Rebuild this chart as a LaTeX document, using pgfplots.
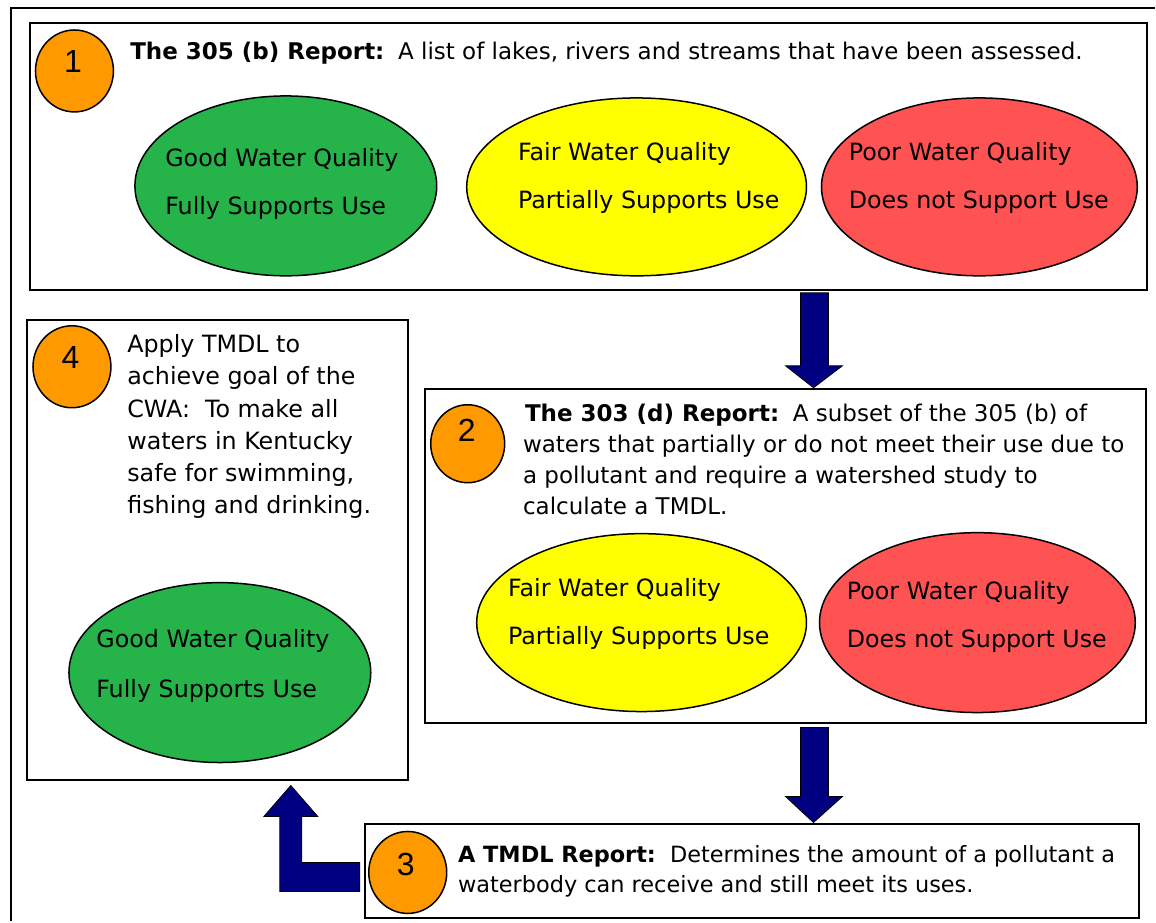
\documentclass[border=0pt]{standalone}
\usepackage{pgfplots}
\pgfplotsset{compat=1.18}
\usepackage{fontspec}
\setmainfont{DejaVu Sans}
\newfontfamily\numfont{Liberation Sans}
\definecolor{orng}{HTML}{FF9900}
\definecolor{grn}{HTML}{26B44A}
\definecolor{ylw}{HTML}{FFFF00}
\definecolor{rd}{HTML}{FF5353}
\definecolor{nvy}{HTML}{000080}
\tikzset{
  txt/.style={font=\fontsize{11.5}{14}\selectfont, inner sep=0pt, anchor=base west},
  etxt/.style={font=\fontsize{11.9}{14}\selectfont, inner sep=0pt, anchor=base west},
  stxt/.style={font=\fontsize{11.2}{14}\selectfont, inner sep=0pt, anchor=base west},
  num/.style={font=\numfont\fontsize{16}{18}\selectfont, inner sep=0pt, anchor=base},
}
\begin{document}
\begin{tikzpicture}
\begin{axis}[scale only axis, width=578pt, height=461pt,
  xmin=0, xmax=1156, ymin=0, ymax=922, y dir=reverse,
  hide axis, clip=false]
% background
\addplot[draw=none, fill=white, mark=none] coordinates {(0,0) (1156,0) (1156,922) (0,922)} --cycle;
% outer frame (top and left)
\addplot[draw=black, line width=0.75pt, mark=none] coordinates {(11,922) (11,8) (1156,8)};
% boxes
\addplot[draw=black, line width=1pt, fill=white, mark=none] coordinates {(30,23) (1148,23) (1148,290) (30,290)} --cycle;
\addplot[draw=black, line width=1pt, fill=white, mark=none] coordinates {(425,389) (1147,389) (1147,723) (425,723)} --cycle;
\addplot[draw=black, line width=1pt, fill=white, mark=none] coordinates {(365,825) (1140,825) (1140,919) (365,919)} --cycle;
\addplot[draw=black, line width=1pt, fill=white, mark=none] coordinates {(27,320) (408,320) (408,780) (27,780)} --cycle;
% arrows
\addplot[draw=black, line width=0.4pt, fill=nvy, mark=none] coordinates {(801,293) (829,293) (829,366) (843,366) (814,388) (786,366) (801,366)} --cycle;
\addplot[draw=black, line width=0.4pt, fill=nvy, mark=none] coordinates {(801,728) (829,728) (829,797) (843,797) (814,823) (786,797) (801,797)} --cycle;
\addplot[draw=black, line width=0.4pt, fill=nvy, mark=none] coordinates {(360,863) (302,863) (302,817) (318,817) (291,786) (264,817) (280,817) (280,892) (360,892)} --cycle;
% ellipses
\draw[fill=grn, line width=0.75pt] (axis cs:286,186) ellipse [x radius=151, y radius=90];
\draw[fill=ylw, line width=0.75pt] (axis cs:637,187) ellipse [x radius=170, y radius=89];
\draw[fill=rd, line width=0.75pt] (axis cs:980,187) ellipse [x radius=158, y radius=89];
\draw[fill=ylw, line width=0.75pt] (axis cs:642,623) ellipse [x radius=165, y radius=89];
\draw[fill=rd, line width=0.75pt] (axis cs:978,623) ellipse [x radius=158, y radius=90];
\draw[fill=grn, line width=0.75pt] (axis cs:220,673) ellipse [x radius=151, y radius=90];
% circles
\draw[fill=orng, line width=0.75pt] (axis cs:74.5,71) ellipse [x radius=39, y radius=41];
\draw[fill=orng, line width=0.75pt] (axis cs:468,444) ellipse [x radius=37, y radius=39];
\draw[fill=orng, line width=0.75pt] (axis cs:408,873) ellipse [x radius=39, y radius=41];
\draw[fill=orng, line width=0.75pt] (axis cs:72,367) ellipse [x radius=39, y radius=41];
\node[num] at (axis cs:73,73) {1};
\node[num] at (axis cs:467,442) {2};
\node[num] at (axis cs:406,876) {3};
\node[num] at (axis cs:70.5,369) {4};
% box 1 text
\node[txt] at (axis cs:130,60) {\textbf{The 305 (b) Report:}};
\node[txt] at (axis cs:398,60) {A list of lakes, rivers and streams that have been assessed.};
\node[etxt] at (axis cs:165,167) {Good Water Quality};
\node[etxt] at (axis cs:165,215) {Fully Supports Use};
\node[etxt] at (axis cs:518,161) {Fair Water Quality};
\node[etxt] at (axis cs:518,209) {Partially Supports Use};
\node[etxt] at (axis cs:849,161) {Poor Water Quality};
\node[etxt] at (axis cs:849,209) {Does not Support Use};
% box 2 text
\node[txt] at (axis cs:525,422) {\textbf{The 303 (d) Report:}};
\node[txt] at (axis cs:793,422) {A subset of the 305 (b) of};
\node[txt] at (axis cs:523,453) {waters that partially or do not meet their use due to};
\node[txt] at (axis cs:523,484) {a pollutant and require a watershed study to};
\node[txt] at (axis cs:523,515) {calculate a TMDL.};
\node[etxt] at (axis cs:508,597) {Fair Water Quality};
\node[etxt] at (axis cs:508,645) {Partially Supports Use};
\node[etxt] at (axis cs:847,600) {Poor Water Quality};
\node[etxt] at (axis cs:847,648) {Does not Support Use};
% box 3 text
\node[stxt] at (axis cs:458,863) {\textbf{A TMDL Report:}\ \ Determines the amount of a pollutant a};
\node[stxt] at (axis cs:458,893) {waterbody can receive and still meet its uses.};
% box 4 text
\node[etxt] at (axis cs:127,353) {Apply TMDL to};
\node[etxt] at (axis cs:127,385) {achieve goal of the};
\node[etxt] at (axis cs:127,418) {CWA:\ \ To make all};
\node[etxt] at (axis cs:127,450) {waters in Kentucky};
\node[etxt] at (axis cs:127,482) {safe for swimming,};
\node[etxt] at (axis cs:127,514) {fishing and drinking.};
\node[etxt] at (axis cs:96,648) {Good Water Quality};
\node[etxt] at (axis cs:96,698) {Fully Supports Use};
\end{axis}
\end{tikzpicture}
\end{document}
